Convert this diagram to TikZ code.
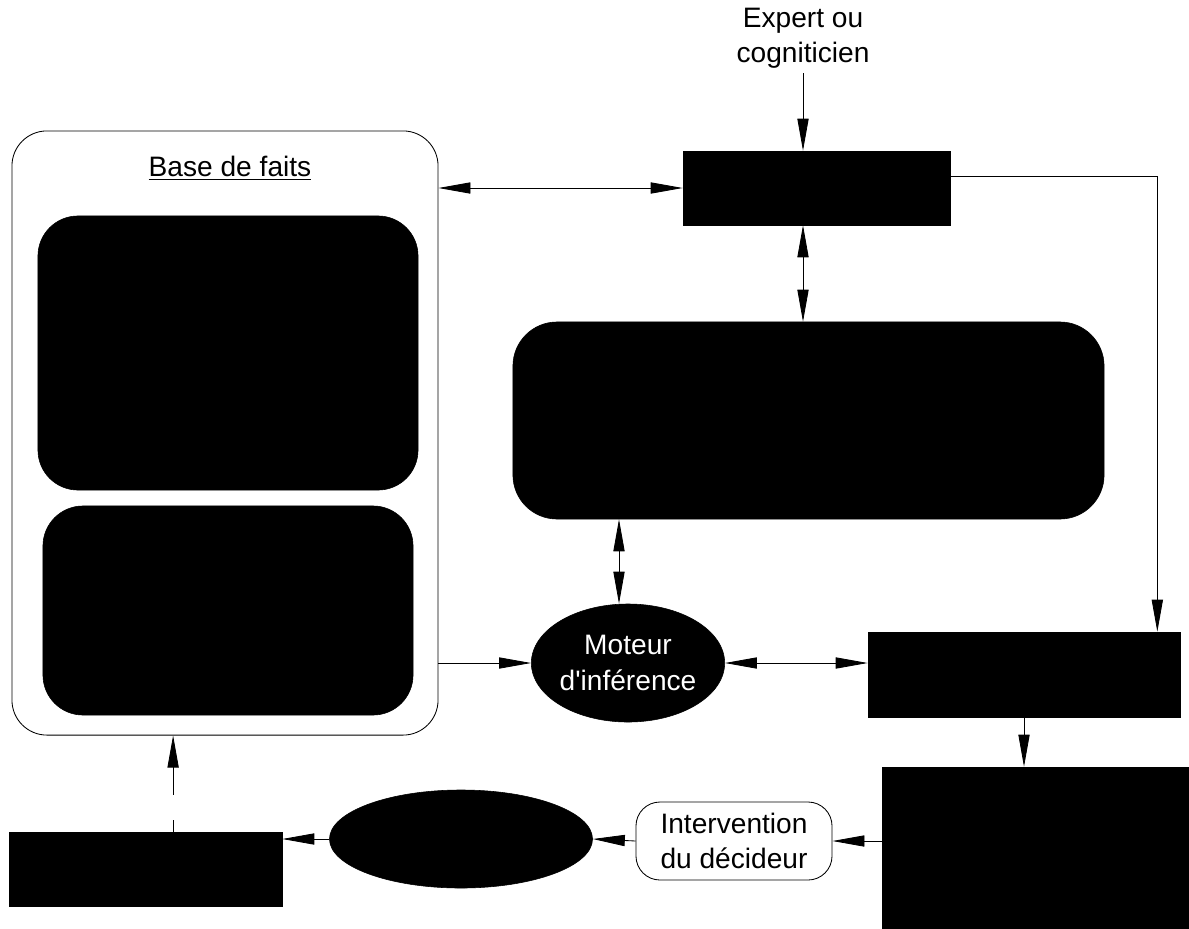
\documentclass[tikz,border=0pt]{standalone}
\usepackage{fontspec}
\setmainfont{Liberation Sans}
\usepackage{tikz}
\usetikzlibrary{shapes.geometric, arrows.meta, positioning, calc}
\tikzset{
  % Box styles
  blackbox/.style={rectangle, draw=black, fill=black, text=white, inner sep=0pt},
  roundblack/.style={rectangle, rounded corners=1cm, draw=black, fill=black, text=white, inner sep=0pt},
  framebox/.style={rectangle, rounded corners=0.875cm, draw=black, line width=0.6pt, fill=white, inner sep=0pt},
  pillbox/.style={rectangle, rounded corners=0.6cm, draw=black, line width=0.6pt, fill=white, align=center, inner sep=0pt},
  blackoval/.style={ellipse, draw=black, fill=black, text=white, align=center, inner sep=0pt},
  label/.style={font=\fontsize{20}{25}\selectfont, align=center},
  % Arrow styles
  arrow/.style={-{Triangle[length=0.8cm, width=0.28cm]}, line width=0.6pt},
  dblarrow/.style={{Triangle[length=0.8cm, width=0.28cm]}-{Triangle[length=0.8cm, width=0.28cm]}, line width=0.6pt},
  dasharrow/.style={arrow, dash pattern=on 0.3cm off 0.625cm on 3cm}
}
\begin{document}
\begin{tikzpicture}[x=0.025cm, y=-0.025cm]
  \useasboundingbox (0,0) rectangle (1189,928);

  % Base de faits
  \node[framebox, minimum width=10.65cm, minimum height=15.1cm] (faits) at (225,433) {};
  \node[label] (titre) at (230,168) {\underline{Base de faits}};
  \node[roundblack, minimum width=9.5cm, minimum height=6.85cm] (faitsA) at (228,353) {};
  \node[roundblack, minimum width=9.25cm, minimum height=5.225cm] (faitsB) at (228,610.5) {};

  % Acquisition
  \node[label] (expert) at (803,38) {Expert ou\\cogniticien};
  \node[blackbox, minimum width=6.675cm, minimum height=1.85cm] (saisie) at (816.5,188) {};

  % Base de connaissances
  \node[roundblack, rounded corners=1.1cm, minimum width=14.775cm, minimum height=4.925cm] (baseconn) at (808.5,420.5) {};

  % Moteur
  \node[blackoval, label, text=white, minimum width=4.75cm, minimum height=2.95cm] (moteur) at (628,663) {Moteur\\d\textquotesingle inférence};

  % Interface et resultats
  \node[blackbox, minimum width=7.8cm, minimum height=2.125cm] (interface) at (1024,674.5) {};
  \node[blackbox, minimum width=7.675cm, minimum height=4.025cm] (resultats) at (1035.5,847.5) {};

  % Decision
  \node[pillbox, label, minimum width=4.9cm, minimum height=1.95cm] (decideur) at (734,841) {Intervention\\du décideur};
  \node[blackoval, minimum width=6.575cm, minimum height=2.45cm] (action) at (461,839) {};
  \node[blackbox, minimum width=6.825cm, minimum height=1.85cm] (sortie) at (145.5,869) {};

  % Arrows
  \draw[arrow] (expert.south) -- (expert.south |- saisie.north);
  \draw[dblarrow] (faits.east |- saisie.west) -- (saisie.west);
  \draw[arrow] ([yshift=0.3cm]saisie.east) -| ([xshift=-0.575cm]interface.north east);
  \draw[dblarrow] (expert.south |- saisie.south) -- (expert.south |- baseconn.north);
  \draw[dblarrow] ([xshift=-0.225cm]moteur.north |- baseconn.south) -- ([xshift=-0.225cm]moteur.north);
  \draw[arrow] (faits.east |- moteur.west) -- (moteur.west);
  \draw[dblarrow] (moteur.east) -- (moteur.east -| interface.west);
  \draw[arrow] (interface.south) -- (interface.south |- resultats.north);
  \draw[arrow] (decideur.east -| resultats.west) -- (decideur.east);
  \draw[arrow] (decideur.west) -- (action.east);
  \draw[arrow] (action.west) -- (action.west -| sortie.east);
  \draw[dasharrow] ([xshift=0.69cm]sortie.north) -- ([xshift=0.69cm]sortie.north |- faits.south);
\end{tikzpicture}
\end{document}
